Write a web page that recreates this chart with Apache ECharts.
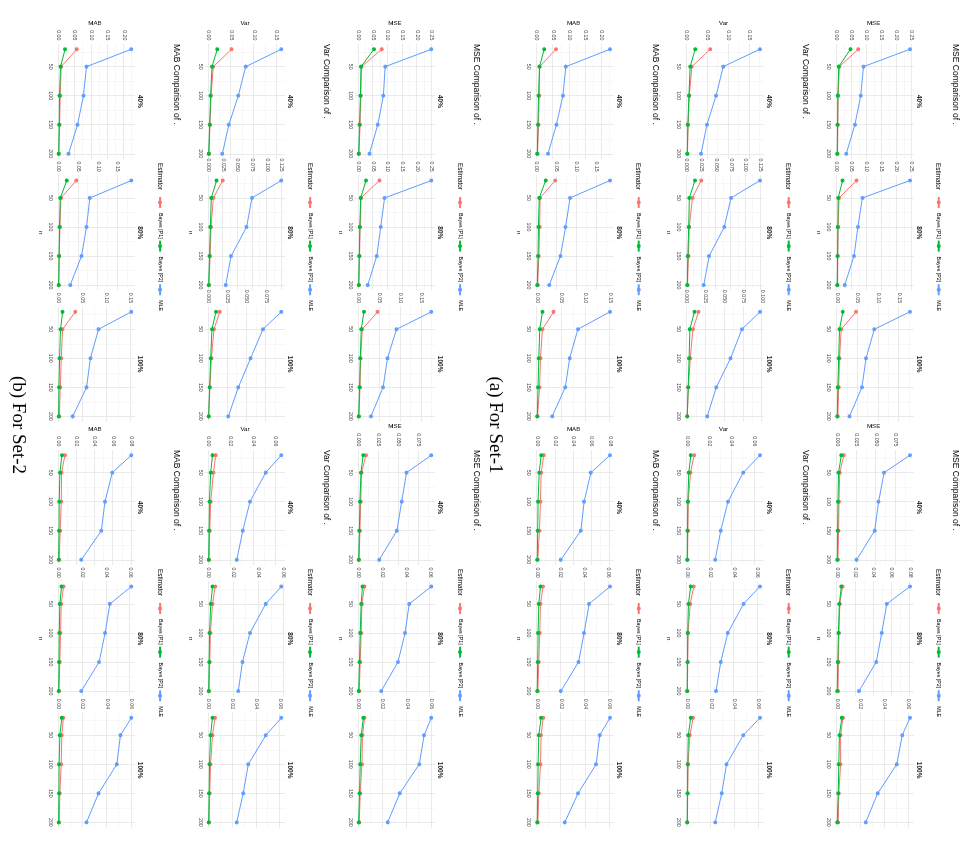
<!DOCTYPE html>
<html>
<head>
<meta charset="utf-8">
<title>Comparison of estimators</title>
<script src="https://cdn.jsdelivr.net/npm/echarts@6/dist/echarts.min.js"></script>
<style>
  html, body { margin: 0; padding: 0; background: #fff; overflow: hidden; }
  /* the figure is drawn upright and turned a quarter to the right, like the scan */
  #main {
    position: absolute; left: 0; top: 0;
    width: 851px; height: 963px;
    transform-origin: 0 0;
    transform: translate(963px, 0) rotate(90deg);
  }
</style>
</head>
<body>
<div id="main"></div>
<script>
// ---- data ----
const nValues = [20, 50, 100, 150, 200]
const facetLabels = ['40%', '80%', '100%']
const estimators = ['Bayes [P1]', 'Bayes [P2]', 'MLE']
const estimatorColors = ['#F8766D', '#00BA38', '#619CFF']
const metrics = ['MSE', 'Var', 'MAB']
const captions = ['(a) For Set-1', '(b) For Set-2']

// each: one entry per facet (40%, 80%, 100%), inside [P1, P2, MLE] at n = nValues
// Set-1, first parameter (left)
const set1LeftMSE = [
  [[0.0716, 0.008, 0.004, 0.003, 0.002], [0.045, 0.006, 0.003, 0.002, 0.001], [0.244, 0.0886, 0.0795, 0.060, 0.031]],
  [[0.065, 0.007, 0.004, 0.003, 0.002], [0.019, 0.004, 0.003, 0.002, 0.001], [0.244, 0.085, 0.070, 0.057, 0.026]],
  [[0.046, 0.010, 0.006, 0.004, 0.002], [0.014, 0.006, 0.004, 0.002, 0.0005], [0.176, 0.090, 0.070, 0.060, 0.030]]
]
const set1LeftVar = [
  [[0.056, 0.012, 0.006, 0.003, 0.0015], [0.020, 0.008, 0.005, 0.0025, 0.001], [0.175, 0.087, 0.070, 0.048, 0.034]],
  [[0.0245, 0.0097, 0.0045, 0.003, 0.0015], [0.014, 0.0045, 0.0035, 0.002, 0.001], [0.124, 0.075, 0.0636, 0.038, 0.029]],
  [[0.0156, 0.008, 0.0045, 0.002, 0.0005], [0.010, 0.004, 0.003, 0.0017, 0.0005], [0.097, 0.073, 0.058, 0.039, 0.027]]
]
const set1LeftMAB = [
  [[0.059, 0.008, 0.007, 0.005, 0.002], [0.0225, 0.008, 0.005, 0.003, 0.001], [0.225, 0.089, 0.080, 0.060, 0.034]],
  [[0.046, 0.008, 0.007, 0.005, 0.002], [0.022, 0.006, 0.004, 0.003, 0.001], [0.183, 0.083, 0.072, 0.059, 0.031]],
  [[0.034, 0.011, 0.007, 0.005, 0.001], [0.011, 0.0055, 0.0035, 0.002, 0.0003], [0.150, 0.084, 0.067, 0.058, 0.031]]
]
// Set-1, second parameter (right)
const set1RightMSE = [
  [[0.0087, 0.0035, 0.0025, 0.002, 0.0012], [0.0055, 0.002, 0.0012, 0.0008, 0.0003], [0.093, 0.060, 0.053, 0.048, 0.025]],
  [[0.006, 0.003, 0.002, 0.0015, 0.001], [0.0047, 0.0025, 0.0015, 0.0008, 0.0002], [0.080, 0.0545, 0.049, 0.043, 0.024]],
  [[0.005, 0.003, 0.003, 0.0015, 0.001], [0.004, 0.002, 0.0015, 0.001, 0.0002], [0.061, 0.0545, 0.050, 0.034, 0.024]]
]
const set1RightVar = [
  [[0.0063, 0.003, 0.001, 0.0007, 0.0003], [0.0033, 0.0015, 0.0006, 0.0003, 0.0001], [0.065, 0.050, 0.0364, 0.030, 0.025]],
  [[0.0057, 0.0026, 0.0008, 0.0005, 0.0002], [0.003, 0.0011, 0.0005, 0.0003, 0.0001], [0.062, 0.048, 0.0346, 0.0286, 0.0246]],
  [[0.005, 0.0023, 0.0008, 0.0005, 0.0002], [0.003, 0.001, 0.0005, 0.0003, 0.0001], [0.061, 0.047, 0.033, 0.029, 0.0235]]
]
const set1RightMAB = [
  [[0.0073, 0.0044, 0.0036, 0.0025, 0.0007], [0.0044, 0.0022, 0.001, 0.0006, 0.0001], [0.080, 0.059, 0.0516, 0.048, 0.026]],
  [[0.005, 0.0028, 0.0022, 0.0014, 0.0006], [0.0028, 0.0014, 0.0008, 0.0005, 0.0001], [0.0614, 0.0438, 0.0396, 0.0349, 0.020]],
  [[0.005, 0.0033, 0.0028, 0.0014, 0.0006], [0.0033, 0.0014, 0.0008, 0.0005, 0.0001], [0.0605, 0.052, 0.049, 0.034, 0.023]]
]
// Set-2, first parameter (left)
const set2LeftMSE = [
  [[0.0795, 0.011, 0.008, 0.006, 0.002], [0.053, 0.009, 0.007, 0.004, 0.001], [0.248, 0.091, 0.085, 0.066, 0.0375]],
  [[0.0716, 0.009, 0.006, 0.004, 0.002], [0.026, 0.008, 0.005, 0.003, 0.001], [0.248, 0.089, 0.076, 0.0625, 0.032]],
  [[0.046, 0.0095, 0.0055, 0.004, 0.0015], [0.0134, 0.007, 0.0047, 0.003, 0.0008], [0.174, 0.091, 0.0695, 0.059, 0.030]]
]
const set2LeftVar = [
  [[0.051, 0.011, 0.0058, 0.0036, 0.0015], [0.0197, 0.008, 0.005, 0.003, 0.0007], [0.160, 0.0818, 0.0657, 0.045, 0.0307]],
  [[0.0244, 0.0085, 0.0045, 0.003, 0.001], [0.014, 0.005, 0.0034, 0.002, 0.0005], [0.124, 0.074, 0.065, 0.0386, 0.0295]],
  [[0.015, 0.0073, 0.004, 0.002, 0.0004], [0.0099, 0.0047, 0.003, 0.0017, 0.0004], [0.095, 0.071, 0.055, 0.039, 0.026]]
]
const set2LeftMAB = [
  [[0.056, 0.008, 0.005, 0.003, 0.001], [0.020, 0.006, 0.003, 0.002, 0.0003], [0.2225, 0.0854, 0.076, 0.058, 0.0305]],
  [[0.045, 0.006, 0.0034, 0.0017, 0.0005], [0.021, 0.0042, 0.0025, 0.0013, 0.0002], [0.184, 0.079, 0.0706, 0.058, 0.0294]],
  [[0.0346, 0.0083, 0.0055, 0.0035, 0.0014], [0.0083, 0.004, 0.002, 0.0007, 0.0001], [0.151, 0.083, 0.066, 0.058, 0.0293]]
]
// Set-2, second parameter (right)
const set2RightMSE = [
  [[0.0096, 0.004, 0.003, 0.002, 0.001], [0.006, 0.0033, 0.002, 0.0013, 0.0004], [0.091, 0.060, 0.054, 0.048, 0.026]],
  [[0.005, 0.0028, 0.0022, 0.0014, 0.0006], [0.0033, 0.0022, 0.0014, 0.0008, 0.0001], [0.061, 0.0424, 0.039, 0.033, 0.019]],
  [[0.005, 0.0033, 0.0028, 0.0014, 0.0006], [0.004, 0.0022, 0.0014, 0.0008, 0.0001], [0.060, 0.054, 0.050, 0.034, 0.024]]
]
const set2RightVar = [
  [[0.0065, 0.0045, 0.002, 0.0012, 0.0005], [0.0036, 0.002, 0.0009, 0.0006, 0.0002], [0.065, 0.051, 0.037, 0.0306, 0.0253]],
  [[0.0053, 0.0032, 0.0015, 0.001, 0.0004], [0.0032, 0.0018, 0.0008, 0.0005, 0.0001], [0.058, 0.0455, 0.033, 0.027, 0.0237]],
  [[0.0055, 0.0033, 0.0017, 0.001, 0.0004], [0.0033, 0.0017, 0.0008, 0.0005, 0.0001], [0.061, 0.048, 0.0333, 0.029, 0.0236]]
]
const set2RightMAB = [
  [[0.007, 0.0033, 0.003, 0.0018, 0.0007], [0.0037, 0.0015, 0.0007, 0.0005, 0.0001], [0.080, 0.059, 0.051, 0.047, 0.025]],
  [[0.0042, 0.0022, 0.0017, 0.0011, 0.0003], [0.0025, 0.0011, 0.0006, 0.0004, 0.0001], [0.061, 0.043, 0.039, 0.034, 0.019]],
  [[0.004, 0.0027, 0.0022, 0.0011, 0.0005], [0.0027, 0.0011, 0.0005, 0.0003, 0.0001], [0.060, 0.051, 0.048, 0.033, 0.023]]
]

// y tick step of every facet, rows = MSE / Var / MAB
const leftSteps = [[0.05, 0.05, 0.05], [0.05, 0.025, 0.025], [0.05, 0.05, 0.05]]
const rightSteps = [[0.025, 0.02, 0.02], [0.02, 0.02, 0.02], [0.02, 0.02, 0.02]]
const nStep = 50

// ---- layout ----
const FONT = 'Liberation Sans, Arial, sans-serif'
const plotTop0 = 49.4
const groupGap = 150
const setGap = 478.6
const colLeft = [44, 450]
const facetStep = 131.3
const plotW = 115
const plotH = 80

const blocks = [
  [[set1LeftMSE, set1RightMSE], [set1LeftVar, set1RightVar], [set1LeftMAB, set1RightMAB]],
  [[set2LeftMSE, set2RightMSE], [set2LeftVar, set2RightVar], [set2LeftMAB, set2RightMAB]]
]
const steps = [leftSteps, rightSteps]

const grids = []
const xAxes = []
const yAxes = []
const series = []
const legends = []
const graphics = []

function txt(x, y, text, style, rotation) {
  graphics.push({
    type: 'text', x: x, y: y, rotation: rotation || 0, silent: true,
    style: Object.assign({ text: text, fontFamily: FONT, fill: '#000', align: 'left', verticalAlign: 'middle' }, style)
  })
}

for (let s = 0; s < 2; s++) {
  for (let g = 0; g < 3; g++) {
    const top = plotTop0 + s * setGap + g * groupGap
    for (let c = 0; c < 2; c++) {
      const left0 = colLeft[c]
      txt(left0, top - 41.4, metrics[g] + ' Comparison of .', { fontSize: 8.5 })
      txt(left0 + 119, top - 24.4, 'Estimator', { fontSize: 6.4 })
      legends.push({
        left: left0 + 152, top: top - 27.6,
        orient: 'horizontal', padding: 0, itemGap: 1,
        itemWidth: 11, itemHeight: 5,
        selectedMode: false,
        textStyle: { fontSize: 5.3, fontFamily: FONT, color: '#000' },
        data: estimators
      })
      for (let k = 0; k < 3; k++) {
        const idx = grids.length
        const left = left0 + k * facetStep
        grids.push({ left: left, top: top, width: plotW, height: plotH, containLabel: false, outerBoundsMode: 'none' })
        txt(left + plotW / 2, top - 4.7, facetLabels[k], { fontSize: 6.5, fontWeight: 'bold', fill: '#1A1A1A', align: 'center' })

        const vals = blocks[s][g][c][k]
        const flat = [].concat(...vals)
        const lo = Math.min(...flat)
        const hi = Math.max(...flat)
        const pad = (hi - lo) * 0.05
        const step = steps[c][g][k]
        const dec = (String(step).split('.')[1] || '').length

        xAxes.push({
          gridIndex: idx, type: 'value',
          min: nValues[0] - (nValues[nValues.length - 1] - nValues[0]) * 0.05,
          max: nValues[nValues.length - 1] + (nValues[nValues.length - 1] - nValues[0]) * 0.05,
          minInterval: nStep, maxInterval: nStep,
          name: k === 1 ? 'n' : '', nameLocation: 'middle', nameGap: 11.5,
          nameTextStyle: { fontSize: 6.2, fontFamily: FONT, color: '#000' },
          axisLine: { show: false }, axisTick: { show: false },
          axisLabel: { fontSize: 5.3, fontFamily: FONT, color: '#4D4D4D', margin: 2.5, showMinLabel: false, showMaxLabel: false },
          splitLine: { show: true, showMinLine: false, showMaxLine: false, lineStyle: { color: '#E4E4E4', width: 0.8 } },
          minorTick: { show: false, splitNumber: 2 },
          minorSplitLine: { show: true, lineStyle: { color: '#EFEFEF', width: 0.5 } }
        })
        yAxes.push({
          gridIndex: idx, type: 'value',
          min: lo - pad, max: hi + pad,
          minInterval: step, maxInterval: step,
          name: k === 0 ? metrics[g] : '', nameLocation: 'middle', nameRotate: 90, nameGap: 16,
          nameTextStyle: { fontSize: 6.2, fontFamily: FONT, color: '#000' },
          axisLine: { show: false }, axisTick: { show: false },
          axisLabel: {
            fontSize: 5.3, fontFamily: FONT, color: '#4D4D4D', margin: 3.5,
            showMinLabel: false, showMaxLabel: false,
            formatter: v => v.toFixed(dec)
          },
          splitLine: { show: true, showMinLine: false, showMaxLine: false, lineStyle: { color: '#E4E4E4', width: 0.8 } },
          minorTick: { show: false, splitNumber: 2 },
          minorSplitLine: { show: true, lineStyle: { color: '#EFEFEF', width: 0.5 } }
        })
        estimators.forEach((e, i) => {
          series.push({
            type: 'line', name: e,
            xAxisIndex: idx, yAxisIndex: idx,
            data: nValues.map((n, j) => [n, vals[i][j]]),
            symbol: 'circle', symbolSize: 4, showSymbol: true,
            lineStyle: { color: estimatorColors[i], width: 1 },
            itemStyle: { color: estimatorColors[i] },
            z: 2 + i
          })
        })
      }
    }
  }
  txt(425, 468 + s * 477, captions[s], { fontSize: 19, fontFamily: 'Liberation Serif, Times New Roman, serif', align: 'center' })
}

const chart = echarts.init(document.getElementById('main'), null, { renderer: 'canvas' })
chart.setOption({
  backgroundColor: '#fff',
  animation: false,
  color: estimatorColors,
  grid: grids,
  xAxis: xAxes,
  yAxis: yAxes,
  legend: legends,
  series: series,
  graphic: graphics
})
</script>
</body>
</html>
